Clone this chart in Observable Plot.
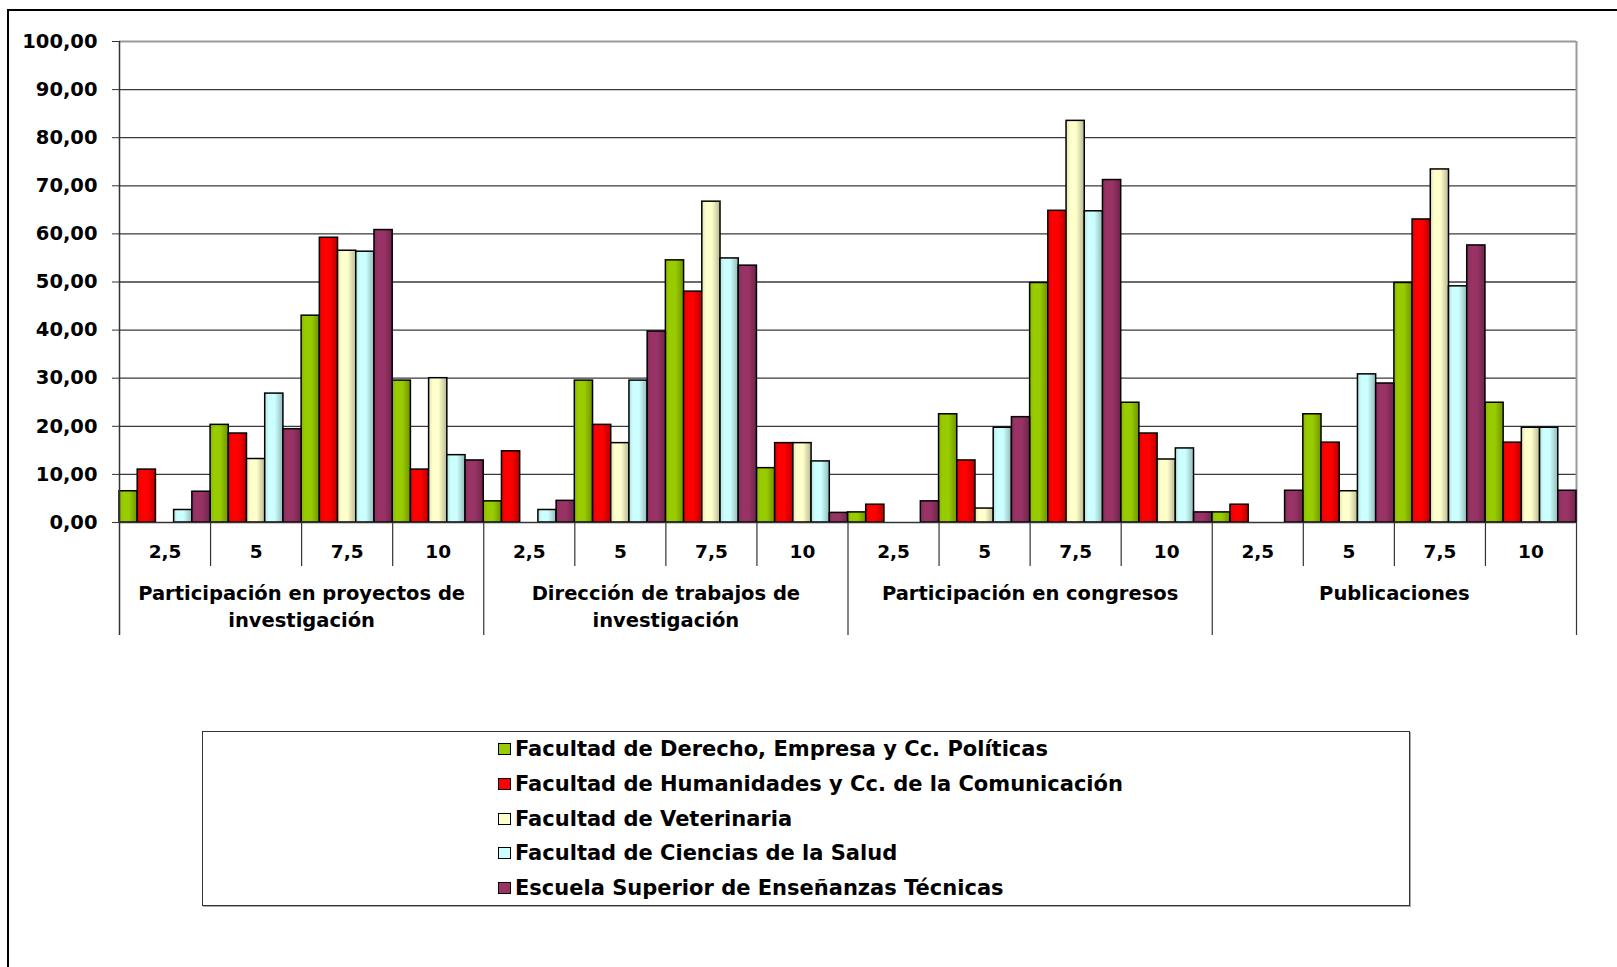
<!DOCTYPE html>
<html><head><meta charset="utf-8">
<script src="https://cdn.jsdelivr.net/npm/d3@7"></script>
<script src="https://cdn.jsdelivr.net/npm/@observablehq/plot@0.6"></script>
<style>
html,body{margin:0;padding:0;background:#fff;overflow:hidden;}
#wrap{position:relative;width:1617px;height:967px;font-family:"DejaVu Sans",sans-serif;font-weight:bold;overflow:hidden;}
#frame{position:absolute;left:7px;top:9px;width:1700px;height:1000px;border-left:2px solid #000;border-top:2px solid #000;}
#chart{position:absolute;left:0;top:0;}
#legend{position:absolute;left:202px;top:731px;width:1206px;height:173px;border:1.5px solid #333;box-shadow:1px 1px 0 #aaa;background:#fff;}
.row{position:absolute;left:295px;height:26px;display:flex;align-items:center;font-size:21px;color:#000;white-space:nowrap;}
.sw{width:11px;height:10px;border:1.5px solid #000;margin-right:4px;flex:none;}
</style></head>
<body>
<div id="wrap"><div id="frame"></div><div id="chart"></div><div id="legend"></div></div>
<script>
// ---- data ----
const groups = ["Participación en proyectos de\ninvestigación", "Dirección de trabajos de\ninvestigación", "Participación en congresos", "Publicaciones"];
const subs = ["2,5", "5", "7,5", "10"];
const series = ["Facultad de Derecho, Empresa y Cc. Políticas", "Facultad de Humanidades y Cc. de la Comunicación", "Facultad de Veterinaria", "Facultad de Ciencias de la Salud", "Escuela Superior de Enseñanzas Técnicas"];
const colors = ["#99cc00", "#ff0000", "#ffffcc", "#ccffff", "#993366"];
// values in order: group x sub (16 per series)
const derecho     = [6.5, 20.3, 43.0, 29.5,  4.4, 29.5, 54.5, 11.3,  2.1, 22.5, 49.8, 24.9,  2.1, 22.5, 49.8, 24.9];
const humanidades = [11.0, 18.5, 59.2, 11.0, 14.8, 20.3, 48.0, 16.5,  3.7, 12.9, 64.8, 18.5,  3.7, 16.6, 63.0, 16.6];
const veterinaria = [0, 13.2, 56.5, 30.0,  0, 16.5, 66.7, 16.5,  0, 2.9, 83.5, 13.1,  0, 6.5, 73.4, 19.7];
const salud       = [2.6, 26.8, 56.3, 14.0,  2.6, 29.5, 54.9, 12.7,  0, 19.7, 64.7, 15.4,  0, 30.8, 49.1, 19.7];
const tecnicas    = [6.4, 19.4, 60.8, 12.9,  4.5, 39.7, 53.4, 2.0,  4.4, 21.9, 71.2, 2.1,  6.6, 28.9, 57.6, 6.6];
const seriesValues = [derecho, humanidades, veterinaria, salud, tecnicas];
const yTicks = [0, 10, 20, 30, 40, 50, 60, 70, 80, 90, 100];

// ---- build ----
const W = 1617, H = 660, ML = 119, MR = 41, MT = 41, MB = 138;
const nBands = groups.length * subs.length * series.length;
const bw = (W - ML - MR) / nBands;
const plotH = H - MT - MB;
const key = (g, s, k) => `${g}|${s}|${k}`;
const domain = [];
groups.forEach((g, gi) => subs.forEach((s, si) => series.forEach((k, ki) => domain.push(key(gi, si, ki)))));
const data = [];
series.forEach((name, ki) => seriesValues[ki].forEach((v, i) => {
  const gi = Math.floor(i / subs.length), si = i % subs.length;
  data.push({key: key(gi, si, ki), series: name, value: v});
}));
const mid = Math.floor(series.length / 2);
const subLabels = [], subSeps = [], groupSeps = [], groupLabels = [];
groups.forEach((g, gi) => {
  groupLabels.push({key: key(gi, 1, series.length - 1), label: g});
  if (gi > 0) groupSeps.push({key: key(gi, 0, 0)});
  subs.forEach((s, si) => {
    subLabels.push({key: key(gi, si, mid), label: s});
    if (si > 0) subSeps.push({key: key(gi, si, 0)});
  });
});
const firstKey = domain[0], lastKey = domain[domain.length - 1];
const fmt = d => d3.format(".2f")(d).replace(".", ",");

const chart = Plot.plot({
  width: W, height: H,
  marginLeft: ML, marginRight: MR, marginTop: MT, marginBottom: MB,
  style: {fontFamily: '"DejaVu Sans", sans-serif', fontWeight: "bold", background: "transparent", color: "#000"},
  x: {type: "band", domain, padding: 0, round: false, axis: null},
  y: {domain: [0, 100], axis: null},
  color: {domain: series, range: colors.map((c, i) => `url(#grad${i})`)},
  marks: [
    Plot.ruleY(yTicks.filter(d => d > 0 && d < 100), {stroke: "#3a3a3a", strokeWidth: 1.3}),
    Plot.ruleY([100], {stroke: "#9a9a9a", strokeWidth: 2}),
    Plot.ruleX([lastKey], {dx: bw / 2, stroke: "#9a9a9a", strokeWidth: 2}),
    Plot.barY(data, {x: "key", y: "value", fill: "series", stroke: "#000", strokeWidth: 1.5, insetLeft: 0, insetRight: 0}),
    Plot.ruleY([0], {stroke: "#333", strokeWidth: 1.5}),
    Plot.ruleX([firstKey], {dx: -bw / 2, stroke: "#333", strokeWidth: 1.5, insetBottom: -113}),
    Plot.ruleX(subSeps, {x: "key", dx: -bw / 2, stroke: "#333", strokeWidth: 1.2, insetTop: plotH, insetBottom: -44}),
    Plot.ruleX(groupSeps, {x: "key", dx: -bw / 2, stroke: "#333", strokeWidth: 1.2, insetTop: plotH, insetBottom: -113}),
    Plot.ruleX([lastKey], {dx: bw / 2, stroke: "#333", strokeWidth: 1.2, insetTop: plotH, insetBottom: -113}),
    Plot.axisY({ticks: yTicks, tickFormat: fmt, tickSize: 7, tickPadding: 15, fontSize: 19.5, fontWeight: "bold", stroke: "#333", fill: "#000", label: null}),
    Plot.text(subLabels, {x: "key", text: "label", frameAnchor: "bottom", dy: 35, fontSize: 18.5, fontWeight: "bold", fill: "#000"}),
    Plot.text(groupLabels, {x: "key", text: "label", frameAnchor: "bottom", dx: bw / 2, dy: 58, lineAnchor: "top", lineHeight: 1.385, fontSize: 19.5, fontWeight: "bold", fill: "#000"})
  ]
});

// gradients for the bar shading
const svg = d3.select(chart);
const defs = svg.insert("defs", ":first-child");
colors.forEach((c, i) => {
  const base = d3.color(c);
  const g = defs.append("linearGradient").attr("id", "grad" + i).attr("x1", 0).attr("x2", 1).attr("y1", 0).attr("y2", 0);
  g.append("stop").attr("offset", "0%").attr("stop-color", base.darker(0.35).formatHex());
  g.append("stop").attr("offset", "22%").attr("stop-color", base.formatHex());
  g.append("stop").attr("offset", "55%").attr("stop-color", base.formatHex());
  g.append("stop").attr("offset", "100%").attr("stop-color", base.darker(0.9).formatHex());
});
document.getElementById("chart").appendChild(chart);

// legend
const rowCenters = [16.7, 51.8, 86.8, 120.8, 155.9];
const legend = d3.select("#legend");
series.forEach((name, i) => {
  const row = legend.append("div").attr("class", "row").style("top", (rowCenters[i] - 13) + "px");
  row.append("div").attr("class", "sw").style("background", colors[i]);
  row.append("span").text(name);
});
</script>
</body></html>
